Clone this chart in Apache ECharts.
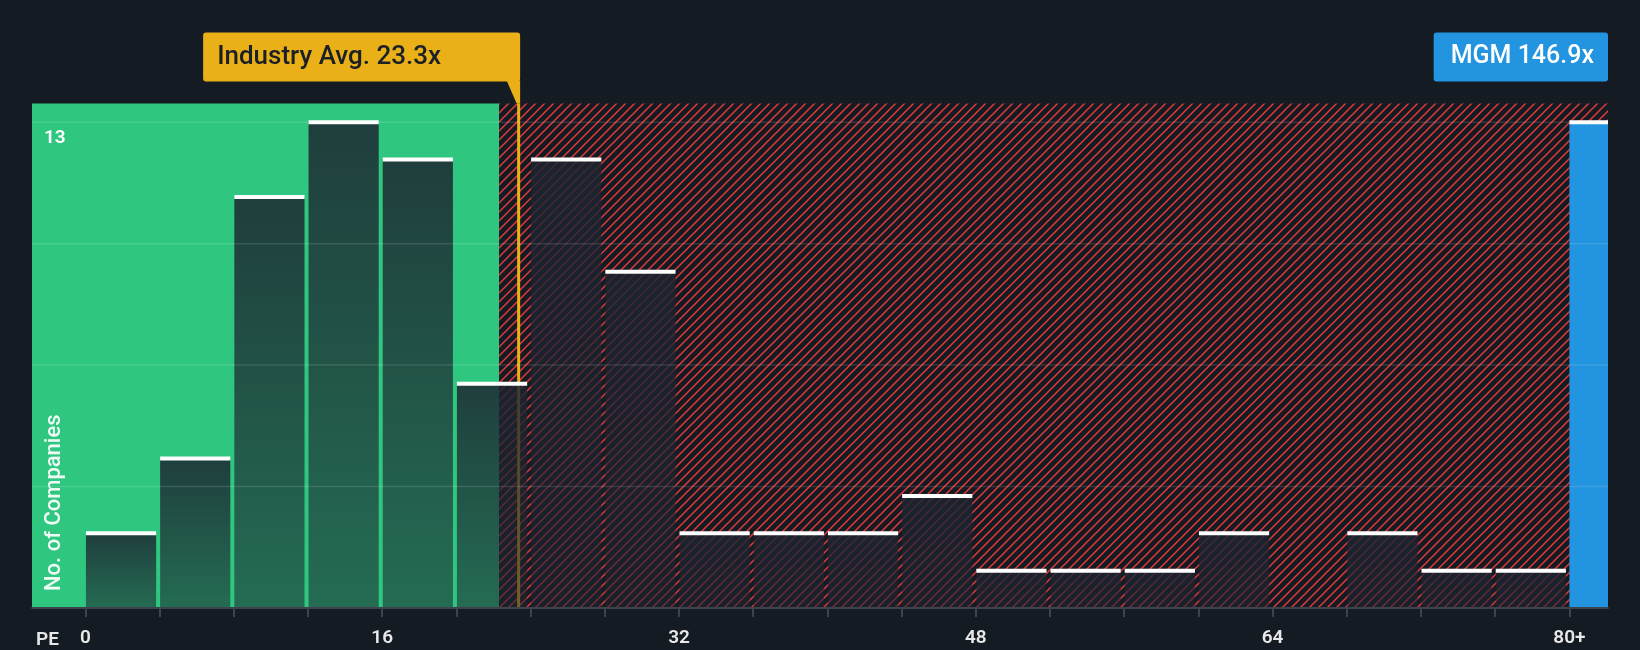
<!DOCTYPE html>
<html>
<head>
<meta charset="utf-8">
<script src="https://cdn.jsdelivr.net/npm/echarts@6/dist/echarts.min.js"></script>
<style>
html,body{margin:0;padding:0;background:#151b23;}
#c{width:1640px;height:650px;}
</style>
</head>
<body>
<div id="c"></div>
<script>
// ---- data ----
const binStarts = [0,4,8,12,16,20,24,28,32,36,40,44,48,52,56,60,64,68,72,76];
const binCounts = [2,4,11,13,12,6,12,9,2,2,2,3,1,1,1,2,0,2,1,1];
const binWidth = 4;
const overflowStart = 80;
const overflowCount = 13;
const industryAvg = 23.3;
const companyName = 'MGM';
const companyPE = 146.9;
const xTickValues = [0,4,8,12,16,20,24,28,32,36,40,44,48,52,56,60,64,68,72,76,80];
const xLabelValues = [0,16,32,48,64,80];
const yGridValues = [3.25,6.5,9.75,13];
const yLabelValues = [13];
const fairEnd = 22.3;

// ---- layout ----
const X_MIN = -2.88, X_MAX = 82.08, Y_MAX = 13.5;
const FONT = 'Roboto, "Noto Sans", sans-serif';

function makeHatch(){
  const s = 9;
  const c = document.createElement('canvas');
  c.width = s; c.height = s;
  const g = c.getContext('2d');
  g.fillStyle = '#151b23';
  g.fillRect(0,0,s,s);
  g.strokeStyle = '#e03a3e';
  g.lineWidth = 1.5;
  g.beginPath();
  for (let k=-1;k<=1;k++){
    g.moveTo(k*s-1, s+1);
    g.lineTo(k*s+s+1, -1);
  }
  g.stroke();
  return c;
}
const hatch = {image: makeHatch(), repeat: 'repeat'};

const regions = [[X_MIN, fairEnd, 0],[fairEnd, X_MAX, 1]];
const barData = binStarts.map((s,i)=>[s, s+binWidth, binCounts[i], 0]);
barData.push([overflowStart, X_MAX, overflowCount, 1]);

const chart = echarts.init(document.getElementById('c'));
chart.setOption({
  backgroundColor: '#151b23',
  animation: false,
  grid: {left: 32, right: 32, top: 103.5, bottom: 42, containLabel: false},
  xAxis: {
    type: 'value', min: X_MIN, max: X_MAX, z: 10,
    axisLine: {show: true, lineStyle: {color: '#3d424b', width: 2}},
    axisTick: {show: true, customValues: xTickValues, length: 9, lineStyle: {color: '#3d424b', width: 2}},
    axisLabel: {customValues: xLabelValues, formatter: v => v === 80 ? '80+' : String(v),
      color: '#e8e8e8', fontSize: 19, fontWeight: 600, fontFamily: FONT, margin: 21},
    splitLine: {show: false}
  },
  yAxis: {
    type: 'value', min: 0, max: Y_MAX, interval: 3.25, z: 10,
    axisLine: {show: false}, axisTick: {show: false}, splitLine: {show: false},
    axisLabel: {inside: true, customValues: yLabelValues, margin: 12, color: '#ffffff',
      fontSize: 19, fontWeight: 600, fontFamily: FONT, verticalAlign: 'top', padding: [7,0,0,0]}
  },
  graphic: [
    {type: 'text', x: 54, y: 591, rotation: Math.PI/2, z: 100,
      style: {text: 'No. of Companies', fill: 'rgba(255,255,255,0.92)', fontSize: 22, fontWeight: 500, fontFamily: FONT,
        align: 'left', verticalAlign: 'middle'}},
    {type: 'text', x: 36, y: 640, z: 100,
      style: {text: 'PE', fill: '#e8e8e8', fontSize: 19, fontWeight: 600, fontFamily: FONT,
        align: 'left', verticalAlign: 'middle'}}
  ],
  series: [
    {
      type: 'custom', z: 1, silent: true, data: regions,
      renderItem: (params, api) => {
        const p0 = api.coord([api.value(0), Y_MAX]);
        const p1 = api.coord([api.value(1), 0]);
        return {type: 'rect', shape: {x: p0[0], y: p0[1], width: p1[0]-p0[0], height: p1[1]-p0[1]},
          style: {fill: api.value(2) === 0 ? '#2fc780' : hatch}};
      }
    },
    {
      type: 'custom', z: 2, silent: true, data: [[industryAvg]],
      renderItem: (params, api) => {
        const x = api.coord([api.value(0), 0])[0] + 1;
        const top = params.coordSys.y;
        const bottom = params.coordSys.y + params.coordSys.height;
        return {type: 'rect', shape: {x: x-1.5, y: top, width: 3, height: bottom-top},
          style: {fill: '#e9b018'}};
      }
    },
    {
      type: 'custom', z: 3, silent: true, data: barData,
      renderItem: (params, api) => {
        const v = api.value(2);
        if (!v) return null;
        const over = api.value(3) === 1;
        const p0 = api.coord([api.value(0), v]);
        const p1 = api.coord([api.value(1), 0]);
        const x0 = p0[0] + (over ? 0 : 0.5);
        const x1 = p1[0] - (over ? 0 : 3.5);
        const fill = over ? '#2394df' : new echarts.graphic.LinearGradient(0,0,0,1,[
          {offset: 0, color: 'rgba(28,36,48,0.84)'},
          {offset: 1, color: 'rgba(28,36,48,0.56)'}
        ]);
        return {type: 'group', children: [
          {type: 'rect', shape: {x: x0, y: p0[1], width: x1-x0, height: p1[1]-p0[1]}, style: {fill}},
          {type: 'rect', shape: {x: x0, y: p0[1]-2, width: x1-x0, height: 4}, style: {fill: '#ffffff'}}
        ]};
      }
    },
    {
      type: 'custom', z: 4, silent: true, data: yGridValues.map(v => [0, v]),
      renderItem: (params, api) => {
        const y = api.coord([0, api.value(1)])[1];
        const cs = params.coordSys;
        return {type: 'rect', shape: {x: cs.x, y: y-0.75, width: cs.width, height: 1.5},
          style: {fill: 'rgba(255,255,255,0.12)'}};
      }
    },
    {
      type: 'custom', z: 5, silent: true, data: [[industryAvg, 0]],
      renderItem: (params, api) => {
        const x = api.coord([api.value(0), 0])[0] + 1;
        const cs = params.coordSys;
        const boxBottom = cs.y - 22, boxTop = boxBottom - 49;
        const right = x + 1.5, width = 317;
        return {type: 'group', children: [
          {type: 'rect', shape: {x: right-width, y: boxTop, width: width, height: boxBottom-boxTop, r: 3},
            style: {fill: '#e9b018'}},
          {type: 'polygon', shape: {points: [[x-12, boxBottom-1],[right, boxBottom-1],[right, cs.y],[x-2, cs.y]]},
            style: {fill: '#e9b018'}},
          {type: 'text', x: right-width+14, y: (boxTop+boxBottom)/2,
            style: {text: 'Industry Avg. ' + industryAvg.toFixed(1) + 'x', fill: '#1b1f26', fontSize: 26,
              fontWeight: 500, fontFamily: FONT, align: 'left', verticalAlign: 'middle'}}
        ]};
      }
    },
    {
      type: 'custom', z: 5, silent: true, data: [[X_MAX, 0]],
      renderItem: (params, api) => {
        const x = api.coord([api.value(0), 0])[0];
        const cs = params.coordSys;
        const boxBottom = cs.y - 22, boxTop = boxBottom - 49;
        return {type: 'text', x: x, y: boxTop,
          style: {text: companyName + ' ' + companyPE.toFixed(1) + 'x', fill: '#ffffff', fontSize: 25,
            fontWeight: 500, fontFamily: FONT, align: 'right', verticalAlign: 'top', lineHeight: 25,
            backgroundColor: '#2394df', padding: [12,14,12,17], borderRadius: 3}};
      }
    }
  ]
});
</script>
</body>
</html>
